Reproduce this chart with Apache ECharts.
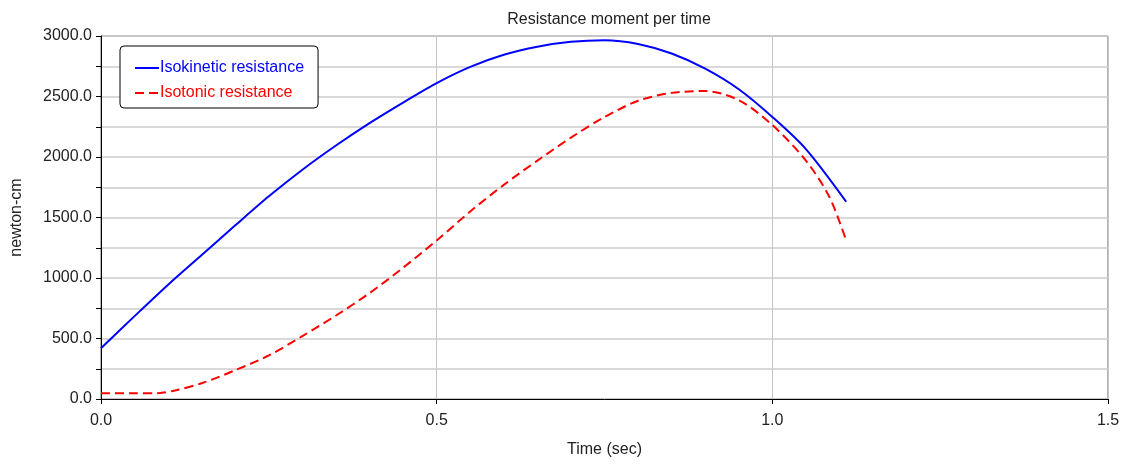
<!DOCTYPE html>
<html><head><meta charset="utf-8">
<script src="https://cdn.jsdelivr.net/npm/echarts@6/dist/echarts.min.js"></script>
<style>html,body{margin:0;padding:0;background:#fff}#c{width:1122px;height:464px}</style>
</head><body><div id="c"></div>
<script>
const title = 'Resistance moment per time';
const xName = 'Time (sec)';
const yName = 'newton-cm';
const xTickLabels = [0, 0.5, 1.0, 1.5];
const yTickLabels = [0, 500, 1000, 1500, 2000, 2500, 3000];
const seriesNames = ['Isokinetic resistance', 'Isotonic resistance'];
const isokineticT = [0.00,0.05,0.10,0.15,0.20,0.25,0.30,0.35,0.40,0.45,0.50,0.55,0.60,0.65,0.70,0.75,0.80,0.85,0.90,0.95,1.00,1.05,1.11];
const isokineticV = [420,685,945,1190,1435,1675,1895,2095,2280,2450,2611,2745,2845,2912,2952,2965,2934,2855,2730,2560,2331,2065,1630];
const isotonicT = [0.00,0.05,0.085,0.11,0.15,0.20,0.25,0.30,0.35,0.40,0.45,0.50,0.55,0.60,0.65,0.70,0.75,0.80,0.85,0.90,0.95,1.00,1.05,1.085,1.11];
const isotonicV = [47,47,48,70,130,238,360,520,690,875,1085,1310,1550,1770,1970,2160,2330,2465,2530,2545,2470,2264,1970,1670,1310];

const font = 'Liberation Sans, Arial, sans-serif';
const chart = echarts.init(document.getElementById('c'));
chart.setOption({
  animation: false,
  backgroundColor: '#fff',
  title: { text: title, left: 604, top: 7, textAlign: 'center',
    textStyle: { fontFamily: font, fontSize: 16, fontWeight: 'normal', color: '#222' } },
  grid: { left: 101, top: 36, width: 1007, height: 363, outerBoundsMode: 'none', containLabel: false,
    show: true, borderColor: '#666', borderWidth: 1, backgroundColor: 'transparent' },
  legend: {
    orient: 'vertical', left: 120, top: 46,
    backgroundColor: '#fff', borderColor: '#000', borderWidth: 1, borderRadius: 4,
    padding: [14, 14, 7, 14], itemGap: 9, itemWidth: 24, itemHeight: 14,
    itemStyle: { opacity: 0 },
    textStyle: { fontFamily: font, fontSize: 16, padding: [0, 0, 0, -4] },
    data: [
      { name: seriesNames[0], textStyle: { color: '#0000ff' } },
      { name: seriesNames[1], textStyle: { color: '#ff0000' } }
    ]
  },
  xAxis: {
    type: 'value', min: 0, max: 1.5, interval: 0.25,
    name: xName, nameLocation: 'middle', nameGap: 43,
    nameTextStyle: { fontFamily: font, fontSize: 16, color: '#222' },
    axisLine: { lineStyle: { color: '#000', width: 1 } },
    axisTick: { show: true, length: 5, customValues: xTickLabels, lineStyle: { color: '#000' } },
    axisLabel: { customValues: xTickLabels, formatter: v => v.toFixed(1), fontFamily: font, fontSize: 16, color: '#222', margin: 14 },
    splitLine: { show: true, lineStyle: { color: '#c4c4c4', width: 1 } }
  },
  yAxis: {
    type: 'value', min: 0, max: 3000, interval: 250,
    name: yName, nameLocation: 'middle', nameGap: 76, nameRotate: 90,
    nameTextStyle: { fontFamily: font, fontSize: 16, color: '#222' },
    axisLine: { show: true, lineStyle: { color: '#000', width: 1 } },
    axisTick: { show: true, length: 5, lineStyle: { color: '#000' } },
    axisLabel: { customValues: yTickLabels, formatter: v => v.toFixed(1), fontFamily: font, fontSize: 16, color: '#222', margin: 9 },
    splitLine: { show: true, lineStyle: { color: '#cccccc', width: 1.5 } }
  },
  series: [
    { name: seriesNames[0], type: 'line', smooth: 0.3, symbol: 'none', showSymbol: false,
      data: isokineticT.map((t, i) => [t, isokineticV[i]]),
      lineStyle: { color: '#0000ff', width: 2 }, itemStyle: { color: '#0000ff' } },
    { name: seriesNames[1], type: 'line', smooth: 0.3, symbol: 'none', showSymbol: false,
      data: isotonicT.map((t, i) => [t, isotonicV[i]]),
      lineStyle: { color: '#ff0000', width: 2, type: [9, 5] }, itemStyle: { color: '#ff0000' } }
  ]
});
</script></body></html>
